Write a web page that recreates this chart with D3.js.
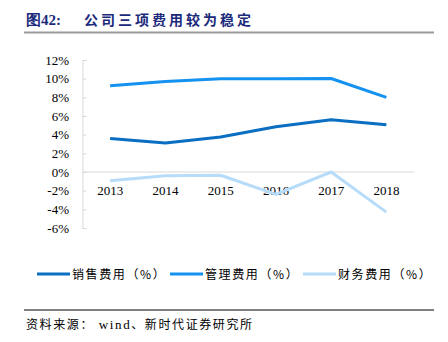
<!DOCTYPE html>
<html>
<head>
<meta charset="utf-8">
<script src="https://cdn.jsdelivr.net/npm/d3@7"></script>
<style>
  body { margin: 0; background: #fff; }
  svg { display: block; }
</style>
</head>
<body>
<svg width="448" height="342"></svg>
<script>
// chart data
var years = ['2013', '2014', '2015', '2016', '2017', '2018'];
var salesExp = [3.6, 3.1, 3.75, 4.85, 5.6, 5.05];
var mgmtExp = [9.25, 9.7, 10.0, 9.98, 10.02, 8.0];
var finExp = [-0.95, -0.4, -0.35, -2.4, 0.0, -4.3];
var yTicks = [-6, -4, -2, 0, 2, 4, 6, 8, 10, 12];
var seriesNames = ['销售费用（%）', '管理费用（%）', '财务费用（%）'];
var seriesColors = ['#0a6fc2', '#1592f0', '#b7dcf9'];

var svg = d3.select('svg');
var serif = '"Liberation Serif", "Times New Roman", serif';
var cjk = '"Noto Sans CJK SC", sans-serif';

// title
svg.append('text')
    .attr('x', 26).attr('y', 25)
    .style('font', 'bold 15px ' + serif)
    .style('fill', '#1b2a7b')
    .text('图42:');
svg.append('text')
    .attr('x', 84).attr('y', 25)
    .style('font', 'bold 14px ' + cjk)
    .style('letter-spacing', '3px')
    .style('fill', '#1b2a7b')
    .text('公司三项费用较为稳定');
svg.append('rect')
    .attr('x', 24).attr('y', 31.5).attr('width', 410).attr('height', 2)
    .style('fill', '#9a9a9a');

var plot = { l: 82.5, r: 414, t: 60, b: 228 };

var x = d3.scalePoint().domain(years).range([plot.l, plot.r]).padding(0.5);
var y = d3.scaleLinear().domain([-6, 12]).range([plot.b, plot.t]);

// y axis
var yAxis = svg.append('g')
    .attr('transform', 'translate(' + plot.l + ',0)')
    .call(d3.axisRight(y).tickValues(yTicks).tickSize(4).tickFormat(''));
yAxis.select('.domain').attr('stroke', '#d9d9d9');
yAxis.selectAll('.tick line').attr('stroke', '#d9d9d9');

svg.append('g').selectAll('text')
    .data(yTicks)
    .enter().append('text')
    .attr('x', 69)
    .attr('y', function(d) { return y(d) + 4.5; })
    .attr('text-anchor', 'end')
    .style('font', '13px ' + serif)
    .style('fill', '#000')
    .text(function(d) { return d + '%'; });

// zero line
svg.append('line')
    .attr('x1', plot.l).attr('x2', plot.r)
    .attr('y1', y(0)).attr('y2', y(0))
    .attr('stroke', '#d9d9d9').attr('stroke-width', 1.2);

// x labels
svg.append('g').selectAll('text')
    .data(years)
    .enter().append('text')
    .attr('x', function(d) { return x(d); })
    .attr('y', y(0) + 23)
    .attr('text-anchor', 'middle')
    .style('font', '13px ' + serif)
    .style('fill', '#000')
    .text(function(d) { return d; });

// lines
var line = d3.line()
    .x(function(d, i) { return x(years[i]); })
    .y(function(d) { return y(d); });

[salesExp, mgmtExp, finExp].forEach(function(s, i) {
    svg.append('path')
        .datum(s)
        .attr('d', line)
        .attr('fill', 'none')
        .attr('stroke', seriesColors[i])
        .attr('stroke-width', 3)
        .attr('stroke-linejoin', 'round');
});

// legend
var legendX = [37, 170, 303];
var legend = svg.append('g').selectAll('g')
    .data(seriesNames)
    .enter().append('g')
    .attr('transform', function(d, i) { return 'translate(' + legendX[i] + ',274)'; });
legend.append('line')
    .attr('x1', 0).attr('x2', 33)
    .attr('stroke', function(d, i) { return seriesColors[i]; })
    .attr('stroke-width', 3);
legend.append('text')
    .attr('x', 35).attr('y', 4.5)
    .style('font', '12px ' + cjk)
    .style('letter-spacing', '1.6px')
    .style('fill', '#000')
    .text(function(d) { return d; });

// source
svg.append('line')
    .attr('x1', 24).attr('x2', 434)
    .attr('y1', 310).attr('y2', 310)
    .attr('stroke', '#000').attr('stroke-width', 1);
var src = svg.append('text')
    .attr('x', 26).attr('y', 329)
    .style('font', '12px ' + cjk)
    .style('letter-spacing', '1.6px')
    .style('fill', '#000');
src.append('tspan').text('资料来源：');
src.append('tspan').style('font-family', serif).style('font-size', '13px').text(' wind');
src.append('tspan').text('、新时代证券研究所');
</script>
</body>
</html>
